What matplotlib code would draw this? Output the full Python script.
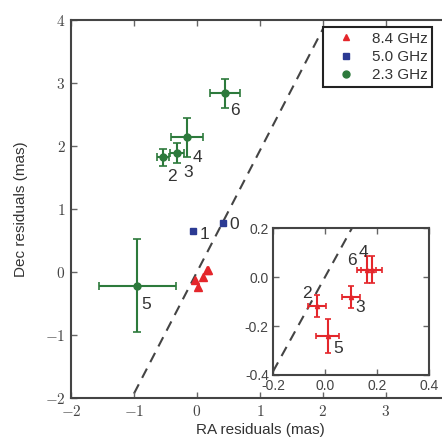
import matplotlib
matplotlib.use("Agg")
import matplotlib.pyplot as plt
from matplotlib.lines import Line2D
from matplotlib.ticker import FuncFormatter, MultipleLocator
import numpy as np

plt.rcParams['mathtext.fontset'] = 'cm'
plt.rcParams['font.family'] = ['Liberation Sans', 'DejaVu Sans']

# 8.4 GHz (red)
ra_84 = [-0.03, 0.01, 0.10, 0.16, 0.18]
dec_84 = [-0.12, -0.24, -0.08, 0.03, 0.03]
era_84 = [0.035, 0.045, 0.035, 0.035, 0.04]
edec_84 = [0.045, 0.07, 0.045, 0.055, 0.055]
lab_84 = ['2', '5', '3', '6', '4']
labpos_84 = [(-0.07, -0.068), (0.05, -0.29), (0.135, -0.125), (0.105, 0.068), (0.148, 0.10)]

# 5.0 GHz (blue)
ra_50 = [0.41, -0.06]
dec_50 = [0.78, 0.65]
lab_50 = ['0', '1']
labpos_50 = [(0.51, 0.76), (0.04, 0.60)]

# 2.3 GHz (green)
ra_23 = [0.44, -0.16, -0.32, -0.54, -0.95]
dec_23 = [2.84, 2.14, 1.89, 1.82, -0.22]
era_23 = [0.24, 0.25, 0.11, 0.10, 0.61]
edec_23 = [0.23, 0.31, 0.16, 0.13, 0.74]
lab_23 = ['6', '4', '3', '2', '5']
labpos_23 = [(0.60, 2.56), (0.0, 1.82), (-0.14, 1.58), (-0.40, 1.52), (-0.80, -0.52)]

slope = 1.93
line_x_main = [-1.0, 2.0]
line_x_inset = [-0.2, 0.105]

RED = '#e4262b'
BLUE = '#2b3a93'
GREEN = '#2d7a3c'
TXT = '#333333'
SPINE = '#444444'

fig = plt.figure(figsize=(4.42, 4.41), dpi=100)
ax = fig.add_axes([0.1606, 0.0975, 0.855, 0.857])

ax.plot(line_x_main, [slope * v for v in line_x_main], ls=(0, (5, 3.5)), color='#444444', lw=1.5, zorder=1)
ax.errorbar(ra_23, dec_23, xerr=era_23, yerr=edec_23, fmt='o', color=GREEN, ms=5,
            elinewidth=1.5, capsize=3, capthick=1.2, zorder=3)
ax.plot(ra_50, dec_50, 's', color=BLUE, ms=5, zorder=3)
ax.plot(ra_84, dec_84, '^', color=RED, ms=6, zorder=3)
for t, (x, y) in zip(lab_23, labpos_23):
    ax.text(x, y, t, fontsize=12.5, color=TXT, ha='center', va='center')
for t, (x, y) in zip(lab_50, labpos_50):
    ax.text(x, y, t, fontsize=12.5, color=TXT, ha='left', va='center')

ax.set_xlim(-2, 4)
ax.set_ylim(-2, 4)
ax.xaxis.set_major_locator(MultipleLocator(1))
ax.yaxis.set_major_locator(MultipleLocator(1))
fmt = FuncFormatter(lambda v, p: r'$%d$' % int(round(v)))
ax.xaxis.set_major_formatter(fmt)
ax.yaxis.set_major_formatter(fmt)
ax.tick_params(direction='in', top=True, right=True, length=4, width=1, color='#666666',
               labelsize=11, labelcolor='#444444', pad=4)
for s in ax.spines.values():
    s.set_linewidth(1.5)
    s.set_color(SPINE)
ax.set_xlabel('RA residuals (mas)', fontsize=11, color=TXT, labelpad=3)
ax.set_ylabel('Dec residuals (mas)', fontsize=11, color=TXT, labelpad=12)

handles = [Line2D([], [], marker='^', color=RED, ls='none', ms=5),
           Line2D([], [], marker='s', color=BLUE, ls='none', ms=5),
           Line2D([], [], marker='o', color=GREEN, ls='none', ms=5)]
leg = fig.legend(handles, ['8.4 GHz', '5.0 GHz', '2.3 GHz'], loc='upper left',
                 bbox_to_anchor=(0.731, 0.939), bbox_transform=fig.transFigure,
                 borderaxespad=0, fancybox=False, framealpha=1, edgecolor='#222222',
                 fontsize=11, numpoints=1, handletextpad=0.55, labelspacing=0.28,
                 borderpad=0.32, handlelength=2.3)
for t in leg.get_texts():
    t.set_color(TXT)
leg.get_frame().set_linewidth(1.5)

ins = fig.add_axes([0.6176, 0.1497, 0.353, 0.333])
ins.plot(line_x_inset, [slope * v for v in line_x_inset], ls=(0, (5, 3.5)), color='#444444', lw=1.5, zorder=1)
ins.errorbar(ra_84, dec_84, xerr=era_84, yerr=edec_84, fmt='^', color=RED, ms=3,
             elinewidth=1.5, capsize=2.5, capthick=1.2, zorder=3)
for t, (x, y) in zip(lab_84, labpos_84):
    ins.text(x, y, t, fontsize=12.5, color=TXT, ha='center', va='center')
ins.set_xlim(-0.2, 0.4)
ins.set_ylim(-0.4, 0.2)
ins.xaxis.set_major_locator(MultipleLocator(0.2))
ins.yaxis.set_major_locator(MultipleLocator(0.2))
ins.xaxis.set_major_formatter(FuncFormatter(lambda v, p: '%.1f' % v))
ins.yaxis.set_major_formatter(FuncFormatter(lambda v, p: '%.1f' % v))
ins.tick_params(direction='in', top=True, right=True, length=4, width=1, color='#666666',
                labelsize=10, labelcolor='#444444', pad=3)
for s in ins.spines.values():
    s.set_linewidth(1.5)
    s.set_color(SPINE)

fig.savefig('out.png', dpi=100)
